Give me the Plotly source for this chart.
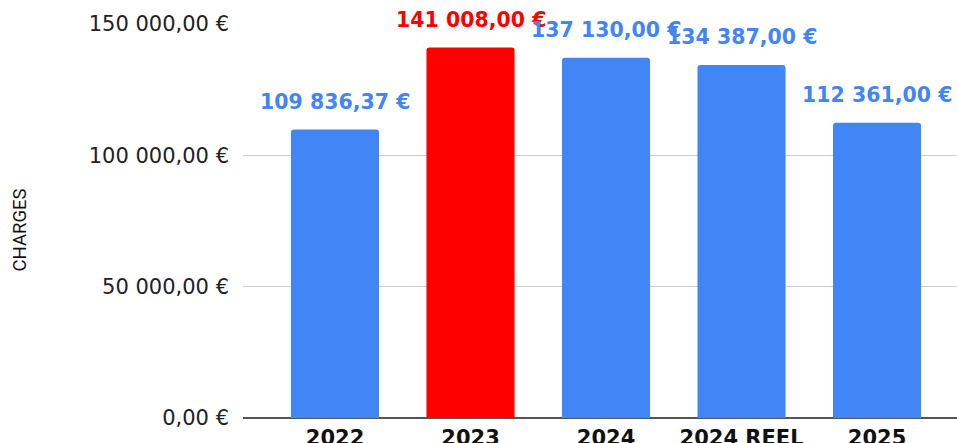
import plotly.graph_objects as go

categories = ["2022", "2023", "2024", "2024 REEL", "2025"]
values = [109836.37, 141008.00, 137130.00, 134387.00, 112361.00]
value_labels = ["109 836,37 €", "141 008,00 €", "137 130,00 €", "134 387,00 €", "112 361,00 €"]
bar_colors = ["#4285F4", "#FF0000", "#4285F4", "#4285F4", "#4285F4"]
tick_vals = [0, 50000, 100000, 150000]
tick_text = ["0,00 €", "50 000,00 €", "100 000,00 €", "150 000,00 €"]
y_title = "CHARGES"

fig = go.Figure()
fig.add_trace(go.Bar(
    x=categories, y=values,
    marker=dict(color=bar_colors, line=dict(width=0), cornerradius=3),
    width=0.65,
    hoverinfo="skip",
))

for i, (v, t, col) in enumerate(zip(values, value_labels, bar_colors)):
    fig.add_annotation(
        x=i, y=v, text=t, showarrow=False,
        xanchor="center", yanchor="middle", yshift=28,
        font=dict(family="DejaVu Sans", size=20.5, color=col, weight="bold"),
    )

fig.add_annotation(
    xref="paper", yref="paper", x=-0.3123, y=0.476,
    text=y_title, textangle=-90, showarrow=False,
    xanchor="center", yanchor="middle",
    font=dict(family="Roboto", size=18.5, color="#111111"),
)

fig.update_layout(
    width=957, height=443,
    margin=dict(l=243, r=0, t=24, b=25),
    plot_bgcolor="white", paper_bgcolor="white",
    showlegend=False,
    bargap=0.35,
)
fig.update_xaxes(
    type="category", automargin=False,
    range=[-0.679, 4.59],
    showgrid=False, showline=False, zeroline=False,
    ticks="", ticklabelstandoff=5,
    tickfont=dict(family="DejaVu Sans", size=21, color="#111111", weight="bold"),
)
fig.update_yaxes(
    automargin=False,
    range=[0, 150000],
    tickvals=tick_vals, ticktext=tick_text,
    showgrid=True, gridcolor="#cccccc", gridwidth=1,
    zeroline=True, zerolinecolor="#555555", zerolinewidth=2,
    showline=False, ticks="", ticklabelstandoff=13,
    tickfont=dict(family="DejaVu Sans", size=21, color="#222222"),
)

fig.write_html("out.html", config={"displayModeBar": False},
               post_script="document.body.style.margin='0';")
